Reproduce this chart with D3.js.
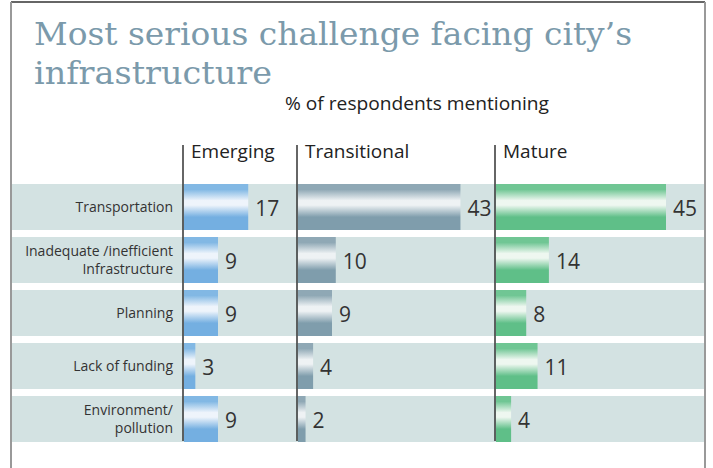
<!DOCTYPE html>
<html>
<head>
<meta charset="utf-8">
<script src="https://cdn.jsdelivr.net/npm/d3@7"></script>
<style>
  html, body { margin: 0; padding: 0; background: #ffffff; }
  svg { display: block; }
</style>
</head>
<body>
<div id="chart"></div>
<script>
// ---- data ----
const categories = ["Transportation", "Inadequate /inefficient\nInfrastructure", "Planning", "Lack of funding", "Environment/\npollution"];
const groups = ["Emerging", "Transitional", "Mature"];
const emerging = [17, 9, 9, 3, 9];
const transitional = [43, 10, 9, 4, 2];
const mature = [45, 14, 8, 11, 4];
const titleLines = ["Most serious challenge facing city\u2019s", "infrastructure"];
const subtitle = "% of respondents mentioning";

const W = 713, H = 468;
const svg = d3.select("#chart").append("svg").attr("width", W).attr("height", H);
const sans = "'Open Sans', 'Noto Sans', sans-serif";

// gradients
const palettes = {
  Emerging: { base: "#74afe1", top: "#82b8e4", hi: "#eef4fb" },
  Transitional: { base: "#7f9dac", top: "#8fa8b5", hi: "#eef2f4" },
  Mature: { base: "#5fbf88", top: "#70c694", hi: "#eef7f0" }
};
const defs = svg.append("defs");
groups.forEach(g => {
  const p = palettes[g];
  const lg = defs.append("linearGradient").attr("id", "grad-" + g)
    .attr("x1", 0).attr("y1", 0).attr("x2", 0).attr("y2", 1);
  [[0, p.top], [0.12, p.top], [0.36, p.hi], [0.46, p.hi], [0.72, p.base], [1, p.base]]
    .forEach(([o, c]) => lg.append("stop").attr("offset", o).attr("stop-color", c));
});

// frame
svg.append("line").attr("x1", 11).attr("x2", 705).attr("y1", 2).attr("y2", 2)
  .attr("stroke", "#333").attr("stroke-width", 1.5);
svg.append("line").attr("x1", 11).attr("x2", 11).attr("y1", 2).attr("y2", H)
  .attr("stroke", "#999").attr("stroke-width", 2);
svg.append("line").attr("x1", 705).attr("x2", 705).attr("y1", 2).attr("y2", H)
  .attr("stroke", "#999").attr("stroke-width", 2);

// title
const titleY = [45, 84];
titleLines.forEach((t, i) => {
  svg.append("text").attr("x", 34).attr("y", titleY[i])
    .attr("font-family", "'DejaVu Serif', 'Liberation Serif', serif")
    .attr("font-size", 32).attr("fill", "#7b9aab")
    .attr("textLength", i === 0 ? 598 : 238).attr("lengthAdjust", "spacingAndGlyphs")
    .text(t);
});
svg.append("text").attr("x", 285).attr("y", 110)
  .attr("font-family", sans).attr("font-size", 18).attr("fill", "#222")
  .attr("textLength", 264).attr("lengthAdjust", "spacingAndGlyphs")
  .text(subtitle);

// scales
const y = d3.scaleBand().domain(categories).range([184, 442]).paddingInner(7 / 53).paddingOuter(0);
const x = d3.scaleLinear().domain([0, 45]).range([0, 170]);
const colX = d3.scaleOrdinal().domain(groups).range([183, 297, 495]);
const values = { Emerging: emerging, Transitional: transitional, Mature: mature };

// row backgrounds
svg.append("g").selectAll("rect").data(categories).join("rect")
  .attr("x", 12).attr("width", 692)
  .attr("y", d => y(d)).attr("height", y.bandwidth())
  .attr("fill", "#d3e2e2");

// row labels
const labG = svg.append("g");
categories.forEach(c => {
  const lines = c.split("\n");
  const cy = y(c) + y.bandwidth() / 2;
  const t = labG.append("text").attr("text-anchor", "end")
    .attr("font-family", sans).attr("font-size", 14).attr("fill", "#333");
  lines.forEach((l, i) => {
    t.append("tspan").attr("x", 173)
      .attr("y", cy + 5 + (i - (lines.length - 1) / 2) * 18)
      .text(l);
  });
});

// bars + values
groups.forEach(g => {
  const x0 = colX(g) + 1;
  const data = categories.map((c, i) => ({ c, v: values[g][i] }));
  const gg = svg.append("g");
  gg.selectAll("rect").data(data).join("rect")
    .attr("x", x0).attr("y", d => y(d.c))
    .attr("width", d => x(d.v)).attr("height", y.bandwidth())
    .attr("fill", "url(#grad-" + g + ")");
  gg.selectAll("text").data(data).join("text")
    .attr("x", d => x0 + x(d.v) + 7)
    .attr("y", d => y(d.c) + y.bandwidth() / 2 + 9)
    .attr("font-family", sans).attr("font-size", 21).attr("fill", "#333")
    .text(d => d.v);
  // column divider
  svg.append("line").attr("x1", colX(g)).attr("x2", colX(g))
    .attr("y1", 145).attr("y2", 441)
    .attr("stroke", "#333").attr("stroke-width", 1.5);
  svg.append("text").attr("x", colX(g) + 8).attr("y", 158)
    .attr("font-family", sans).attr("font-size", 19).attr("fill", "#222")
    .text(g);
});
</script>
</body>
</html>
